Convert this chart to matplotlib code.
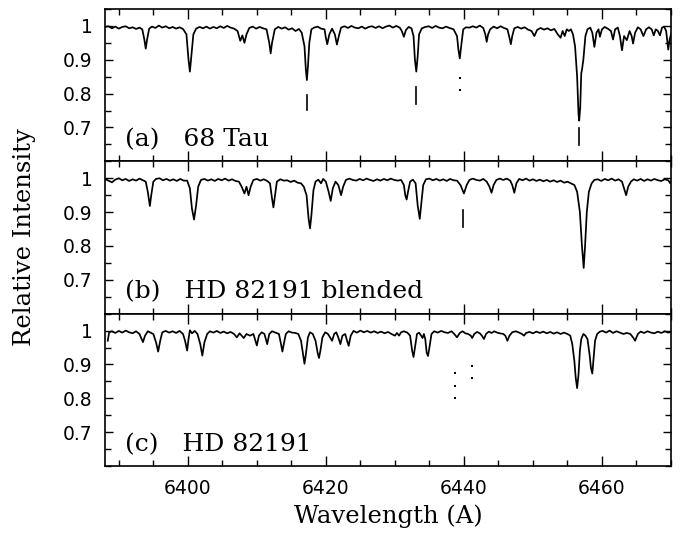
import matplotlib
matplotlib.use("Agg")
import matplotlib.pyplot as plt
from matplotlib.ticker import MultipleLocator, FuncFormatter

# ---------------- data ----------------
# (wavelength [A], relative intensity)
spec_a = [
(6388.0,0.997),(6388.5,0.999),(6389.0,0.993),(6389.5,0.998),(6390.0,0.992),(6390.5,0.997),
(6391.0,0.999),(6391.5,0.993),(6392.0,0.996),(6392.5,0.991),(6393.0,0.995),(6393.4,0.990),
(6393.7,0.960),(6393.9,0.933),(6394.1,0.960),(6394.4,0.992),(6394.8,0.998),(6395.3,0.994),
(6395.8,1.001),(6396.3,0.995),(6396.8,0.999),(6397.3,0.993),(6397.8,0.997),(6398.3,0.992),
(6398.8,0.996),(6399.3,0.991),(6399.8,0.975),(6400.1,0.900),(6400.3,0.865),(6400.5,0.910),
(6400.8,0.975),(6401.2,0.992),(6401.7,0.997),(6402.2,0.993),(6402.7,0.998),(6403.2,0.992),
(6403.7,0.997),(6404.2,0.993),(6404.7,0.999),(6405.2,0.994),(6405.7,1.000),(6406.2,0.995),
(6406.7,0.992),(6407.2,0.985),(6407.6,0.956),(6407.9,0.972),(6408.2,0.950),(6408.5,0.975),
(6408.9,0.994),(6409.4,0.998),(6409.9,0.992),(6410.4,0.997),(6410.9,0.993),(6411.4,0.990),
(6411.8,0.950),(6412.0,0.919),(6412.2,0.950),(6412.6,0.990),(6413.1,0.997),(6413.6,0.992),
(6414.1,0.996),(6414.6,0.989),(6415.1,0.993),(6415.6,0.985),(6416.1,0.991),(6416.5,0.980),
(6416.9,0.940),(6417.1,0.870),(6417.25,0.840),(6417.4,0.880),(6417.6,0.950),(6417.9,0.990),
(6418.3,0.995),(6418.8,0.998),(6419.3,0.992),(6419.8,0.990),(6420.0,0.965),(6420.2,0.946),
(6420.5,0.975),(6420.9,0.992),(6421.3,0.975),(6421.6,0.945),(6421.9,0.972),(6422.2,0.995),
(6422.7,0.999),(6423.2,0.994),(6423.7,1.000),(6424.2,0.995),(6424.7,0.993),(6425.2,0.998),
(6425.7,0.992),(6426.2,0.997),(6426.7,0.999),(6427.2,0.994),(6427.7,0.999),(6428.2,0.993),
(6428.7,0.998),(6429.2,1.001),(6429.7,0.995),(6430.2,1.000),(6430.7,0.995),(6431.0,0.985),
(6431.3,0.968),(6431.6,0.988),(6432.0,0.997),(6432.4,0.993),(6432.7,0.970),(6432.9,0.900),
(6433.1,0.865),(6433.3,0.910),(6433.5,0.975),(6433.9,0.993),(6434.4,0.997),(6434.9,0.999),
(6435.4,0.994),(6435.9,1.000),(6436.4,0.995),(6436.9,0.993),(6437.4,0.998),(6437.9,0.994),
(6438.5,0.990),(6439.0,0.970),(6439.2,0.930),(6439.4,0.904),(6439.6,0.940),(6439.9,0.990),
(6440.3,0.996),(6440.8,0.995),(6441.3,0.999),(6441.8,0.995),(6442.3,1.001),(6442.8,0.994),
(6443.1,0.975),(6443.3,0.953),(6443.5,0.975),(6443.8,0.990),(6444.3,0.998),(6444.8,0.993),
(6445.3,0.999),(6445.8,0.994),(6446.3,0.990),(6446.6,0.965),(6446.8,0.946),(6447.0,0.970),
(6447.3,0.993),(6447.8,0.997),(6448.3,0.992),(6448.8,0.996),(6449.3,0.989),(6449.8,0.985),
(6450.2,0.970),(6450.6,0.988),(6451.1,0.994),(6451.6,0.989),(6452.1,0.993),(6452.6,0.987),
(6453.1,0.991),(6453.6,0.975),(6454.0,0.965),(6454.3,0.985),(6454.6,0.970),(6454.9,0.990),
(6455.2,0.985),(6455.5,0.990),(6455.8,0.975),(6456.1,0.940),(6456.4,0.850),(6456.6,0.740),
(6456.7,0.720),(6456.85,0.760),(6457.0,0.860),(6457.1,0.870),(6457.3,0.900),(6457.6,0.970),
(6457.9,0.990),(6458.3,0.995),(6458.6,0.980),(6458.9,0.938),(6459.2,0.980),(6459.5,0.990),
(6459.7,0.968),(6460.0,0.990),(6460.4,0.997),(6460.9,0.991),(6461.3,0.985),(6461.6,0.960),
(6461.9,0.990),(6462.3,0.995),(6462.6,0.970),(6462.9,0.928),(6463.2,0.970),(6463.6,0.958),
(6464.0,0.985),(6464.3,0.970),(6464.5,0.948),(6464.8,0.980),(6465.2,0.996),(6465.6,0.990),
(6466.0,0.970),(6466.4,0.990),(6466.8,0.996),(6467.2,0.990),(6467.5,0.972),(6467.8,0.990),
(6468.1,0.985),(6468.4,0.972),(6468.7,0.995),(6469.0,0.998),(6469.3,0.985),(6469.6,0.930),
(6469.8,0.960),(6470.0,0.975)]

spec_b = [
(6388.0,0.998),(6388.5,0.993),(6389.0,0.988),(6389.5,0.996),(6390.0,1.000),(6390.5,0.994),
(6391.0,0.998),(6391.5,0.992),(6392.0,0.997),(6392.5,0.993),(6393.0,0.999),(6393.5,0.994),
(6393.9,0.990),(6394.2,0.960),(6394.5,0.918),(6394.7,0.950),(6395.0,0.990),(6395.4,0.998),
(6395.9,1.000),(6396.4,0.994),(6396.9,0.998),(6397.4,0.993),(6397.9,0.997),(6398.4,0.992),
(6398.9,0.998),(6399.4,0.993),(6399.9,0.993),(6400.3,0.970),(6400.6,0.910),(6400.9,0.878),
(6401.2,0.920),(6401.5,0.975),(6401.9,0.995),(6402.4,0.998),(6402.9,0.993),(6403.4,0.997),
(6403.9,0.992),(6404.4,0.998),(6404.9,0.994),(6405.4,0.999),(6405.9,0.993),(6406.4,0.997),
(6406.9,0.992),(6407.4,0.990),(6407.8,0.975),(6408.2,0.955),(6408.5,0.975),(6408.8,0.950),
(6409.1,0.975),(6409.5,0.995),(6410.0,0.998),(6410.5,0.993),(6411.0,0.997),(6411.5,0.992),
(6411.9,0.985),(6412.2,0.940),(6412.4,0.914),(6412.6,0.945),(6412.9,0.990),(6413.4,0.997),
(6413.9,0.993),(6414.4,0.994),(6414.9,0.989),(6415.4,0.993),(6415.9,0.987),(6416.4,0.985),
(6416.8,0.975),(6417.2,0.950),(6417.5,0.880),(6417.7,0.852),(6417.9,0.890),(6418.2,0.965),
(6418.5,0.990),(6418.9,0.996),(6419.3,0.985),(6419.6,0.998),(6420.0,0.990),(6420.4,0.960),
(6420.7,0.933),(6421.0,0.970),(6421.4,0.990),(6421.8,0.980),(6422.2,0.950),(6422.5,0.975),
(6422.9,0.995),(6423.4,0.999),(6423.9,0.995),(6424.4,0.993),(6424.9,0.998),(6425.4,0.994),
(6425.9,0.999),(6426.4,0.995),(6426.9,0.992),(6427.4,0.997),(6427.9,0.993),(6428.4,0.998),
(6428.9,0.994),(6429.4,0.999),(6429.9,0.995),(6430.4,0.993),(6430.9,0.995),(6431.3,0.980),
(6431.5,0.950),(6431.7,0.937),(6431.9,0.960),(6432.2,0.990),(6432.6,0.996),(6433.0,0.985),
(6433.3,0.920),(6433.6,0.880),(6433.8,0.920),(6434.1,0.980),(6434.5,0.997),(6435.0,0.999),
(6435.5,0.994),(6436.0,0.998),(6436.5,0.993),(6437.0,0.997),(6437.5,0.992),(6438.0,0.998),
(6438.5,0.994),(6439.0,0.993),(6439.5,0.980),(6440.0,0.955),(6440.4,0.980),(6440.8,0.995),
(6441.3,0.999),(6441.8,0.995),(6442.3,0.993),(6442.8,0.998),(6443.3,0.990),(6443.7,0.975),
(6444.0,0.957),(6444.3,0.980),(6444.7,0.995),(6445.2,0.999),(6445.7,0.995),(6446.2,0.999),
(6446.7,0.993),(6447.0,0.980),(6447.3,0.957),(6447.6,0.985),(6448.0,0.998),(6448.5,0.994),
(6449.0,0.999),(6449.5,0.993),(6450.0,0.997),(6450.5,0.992),(6451.0,0.996),(6451.5,0.991),
(6452.0,0.995),(6452.5,0.990),(6453.0,0.994),(6453.5,0.989),(6454.0,0.993),(6454.5,0.987),
(6455.0,0.990),(6455.5,0.985),(6456.0,0.980),(6456.4,0.960),(6456.8,0.900),(6457.1,0.800),
(6457.35,0.735),(6457.55,0.800),(6457.8,0.900),(6458.1,0.960),(6458.5,0.985),(6458.9,0.995),
(6459.4,0.997),(6459.9,0.992),(6460.4,0.998),(6460.9,0.994),(6461.4,0.999),(6461.9,0.993),
(6462.4,0.997),(6462.9,0.990),(6463.2,0.970),(6463.5,0.950),(6463.8,0.975),(6464.2,0.990),
(6464.6,0.997),(6465.1,0.993),(6465.6,0.998),(6466.1,0.992),(6466.6,0.997),(6467.1,0.993),
(6467.6,0.998),(6468.1,0.994),(6468.6,0.992),(6469.1,0.997),(6469.6,0.994),(6469.9,0.985),
(6470.0,0.990)]

spec_c = [
(6388.4,0.970),(6388.6,0.995),(6389.0,0.998),(6389.5,0.993),(6390.0,0.999),(6390.5,0.994),
(6391.0,1.000),(6391.5,0.995),(6392.0,0.992),(6392.5,0.998),(6393.0,0.990),(6393.3,0.975),
(6393.5,0.966),(6393.8,0.985),(6394.2,0.998),(6394.6,0.994),(6395.0,0.990),(6395.4,0.965),
(6395.7,0.938),(6396.0,0.970),(6396.3,0.995),(6396.8,0.999),(6397.3,0.994),(6397.8,0.998),
(6398.3,0.993),(6398.8,0.999),(6399.3,0.990),(6399.6,0.970),(6399.9,0.941),(6400.1,0.975),
(6400.3,1.001),(6400.6,0.992),(6401.0,0.999),(6401.4,0.990),(6401.8,0.960),(6402.1,0.926),
(6402.4,0.965),(6402.8,0.990),(6403.2,0.998),(6403.7,0.994),(6404.2,0.999),(6404.7,0.993),
(6405.2,0.997),(6405.7,0.992),(6406.2,0.996),(6406.7,0.990),(6407.1,0.980),(6407.5,0.992),
(6408.1,0.978),(6408.5,0.990),(6409.0,0.985),(6409.5,0.990),(6410.0,0.956),(6410.3,0.985),
(6410.7,0.995),(6411.1,0.990),(6411.5,0.960),(6411.8,0.990),(6412.2,0.998),(6412.7,0.994),
(6413.2,0.990),(6413.5,0.960),(6413.7,0.938),(6413.9,0.960),(6414.2,0.990),(6414.6,0.998),
(6415.1,0.994),(6415.6,0.993),(6416.0,0.990),(6416.4,0.970),(6416.7,0.930),(6416.9,0.902),
(6417.1,0.930),(6417.4,0.980),(6417.7,0.995),(6418.1,0.990),(6418.5,0.970),(6418.8,0.935),
(6419.0,0.919),(6419.2,0.940),(6419.5,0.980),(6419.9,0.995),(6420.3,0.990),(6420.6,0.980),
(6420.9,0.970),(6421.2,0.990),(6421.5,0.995),(6421.8,0.980),(6422.1,0.960),(6422.4,0.985),
(6422.8,0.990),(6423.0,0.975),(6423.3,0.955),(6423.6,0.985),(6424.0,0.999),(6424.5,0.994),
(6425.0,1.000),(6425.5,0.995),(6426.0,0.999),(6426.5,0.994),(6427.0,0.998),(6427.5,0.993),
(6428.0,0.997),(6428.5,0.992),(6429.0,0.996),(6429.5,0.990),(6430.0,0.985),(6430.3,0.993),
(6430.6,0.985),(6430.9,0.995),(6431.3,0.998),(6431.8,0.994),(6432.2,0.985),(6432.5,0.940),
(6432.7,0.922),(6432.9,0.950),(6433.2,0.990),(6433.5,0.994),(6433.8,0.985),(6434.0,0.978),
(6434.2,0.990),(6434.4,0.975),(6434.6,0.935),(6434.8,0.925),(6435.0,0.950),(6435.3,0.990),
(6435.7,0.998),(6436.2,0.994),(6436.7,0.999),(6437.2,0.995),(6437.7,0.993),(6438.2,0.998),
(6438.6,0.990),(6439.0,0.980),(6439.4,0.993),(6439.8,0.998),(6440.2,0.992),(6440.6,0.990),
(6441.0,0.985),(6441.2,0.978),(6441.5,0.990),(6441.9,0.996),(6442.3,0.992),(6442.6,0.985),
(6442.9,0.975),(6443.2,0.990),(6443.6,0.997),(6444.0,0.993),(6444.4,0.998),(6444.8,0.994),
(6445.2,0.992),(6445.7,0.990),(6446.0,0.985),(6446.3,0.970),(6446.6,0.985),(6447.0,0.995),
(6447.5,0.998),(6448.0,0.994),(6448.4,0.990),(6448.7,0.985),(6449.0,0.993),(6449.5,0.996),
(6450.0,0.992),(6450.5,0.997),(6451.0,0.993),(6451.5,0.997),(6452.0,0.992),(6452.5,0.996),
(6453.0,0.991),(6453.5,0.995),(6454.0,0.990),(6454.5,0.994),(6455.0,0.990),(6455.4,0.985),
(6455.7,0.960),(6456.0,0.910),(6456.2,0.860),(6456.4,0.830),(6456.6,0.870),(6456.8,0.940),
(6457.0,0.975),(6457.3,0.990),(6457.6,0.985),(6457.9,0.975),(6458.2,0.930),(6458.4,0.890),
(6458.6,0.873),(6458.8,0.920),(6459.0,0.970),(6459.3,0.990),(6459.7,0.997),(6460.1,0.999),
(6460.6,0.994),(6461.1,1.000),(6461.6,0.993),(6462.1,0.998),(6462.6,0.994),(6463.1,0.990),
(6463.6,0.993),(6464.1,0.990),(6464.5,0.980),(6464.8,0.970),(6465.2,0.990),(6465.6,0.997),
(6466.1,0.993),(6466.6,0.998),(6467.1,0.994),(6467.6,0.992),(6468.1,0.997),(6468.6,0.993),
(6469.1,0.998),(6469.6,0.994),(6470.0,0.996)]

# solid line markers: (wavelength, y_low, y_high)
bars_a = [(6417.2, 0.752, 0.796), (6433.0, 0.769, 0.820), (6456.7, 0.648, 0.698)]
bars_b = [(6439.9, 0.856, 0.906)]
bars_c = []
# dotted markers: (wavelength, [y of each dot])
dots_a = [(6439.5, [0.845, 0.810])]
dots_b = []
dots_c = [(6438.7, [0.874, 0.836, 0.800]), (6441.1, [0.895, 0.859])]

panel_labels = ["(a)   68 Tau", "(b)   HD 82191 blended", "(c)   HD 82191"]
x_range = (6388, 6470)
y_range = (0.6, 1.05)
y_ticks = [0.7, 0.8, 0.9, 1.0]
x_label = "Wavelength (A)"
y_label = "Relative Intensity"

# ---------------- figure ----------------
fig = plt.figure(figsize=(6.81, 5.36), dpi=100)
L, R, T, B = 105/681, 671/681, 1-9/536, 1-466/536
h = (T - B) / 3
serif = ["DejaVu Serif"]

specs = [spec_a, spec_b, spec_c]
bars = [bars_a, bars_b, bars_c]
dots = [dots_a, dots_b, dots_c]
axes = []
for i in range(3):
    ax = fig.add_axes([L, T - (i+1)*h, R-L, h])
    axes.append(ax)
    w = [p[0] for p in specs[i]]
    f = [p[1] for p in specs[i]]
    ax.plot(w, f, color='black', lw=1.25)
    for (wl, lo, hi) in bars[i]:
        ax.plot([wl, wl], [lo, hi], color='black', lw=1.2)
    for (wl, ys) in dots[i]:
        ax.plot([wl]*len(ys), ys, linestyle='none', marker='s',
                markersize=1.6, color='black', markeredgewidth=0)
    ax.set_xlim(*x_range)
    ax.set_ylim(*y_range)
    ax.xaxis.set_major_locator(MultipleLocator(20))
    ax.xaxis.set_minor_locator(MultipleLocator(5))
    ax.set_yticks(y_ticks)
    ax.yaxis.set_minor_locator(MultipleLocator(0.05))
    ax.yaxis.set_major_formatter(FuncFormatter(lambda v, p: "%g" % v))
    ax.tick_params(which='both', direction='in', top=True, right=True,
                   width=1.0, labelsize=13.5, pad=9)
    ax.tick_params(axis='x', which='major', length=7.5)
    ax.tick_params(axis='x', which='minor', length=4)
    ax.tick_params(axis='y', which='major', length=5.5)
    ax.tick_params(axis='y', which='minor', length=4.5)
    for s in ax.spines.values():
        s.set_linewidth(1.2)
    if i < 2:
        ax.tick_params(axis='x', labelbottom=False)
    ax.text(0.035, 0.1, panel_labels[i], transform=ax.transAxes,
            fontsize=18, family=serif, va='baseline', ha='left')

axes[2].set_xlabel(x_label, fontsize=17.5, family=serif, labelpad=5)
fig.text(25/681, 1 - 237/536, y_label, rotation=90, fontsize=17.5, family=serif,
         ha='center', va='center')

fig.savefig("out.png", dpi=100)
